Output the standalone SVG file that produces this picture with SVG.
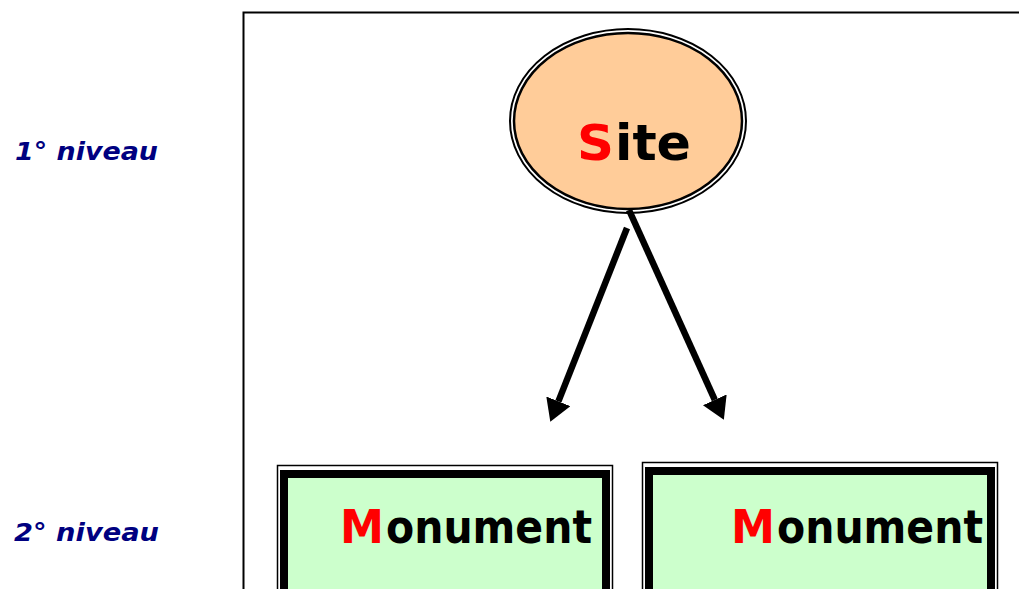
<svg xmlns="http://www.w3.org/2000/svg" width="1019" height="589" viewBox="0 0 1019 589">
<style>
.lvl{font-family:"Comic Sans MS","DejaVu Sans",sans-serif;font-weight:bold;font-style:italic;font-size:25px;fill:#000080}
.nt{font-family:"Comic Sans MS","DejaVu Sans",sans-serif;font-weight:bold;font-size:50px;fill:#000}
.mt{font-size:47px}
.red{fill:#FF0000}
.conn{stroke:#000;stroke-width:6.5;fill:none}
</style>
<defs>
<marker id="ah" markerUnits="userSpaceOnUse" markerWidth="26" markerHeight="28" refX="0" refY="13" orient="auto">
<path d="M0,0 L22,13 L0,26 z" fill="#000"/>
</marker>
</defs>
<rect width="1019" height="589" fill="#fff"/>
<path d="M243.5,589 V12.5 H1019" fill="none" stroke="#000" stroke-width="2"/>
<text class="lvl" x="15" y="160" textLength="143" lengthAdjust="spacingAndGlyphs">1° niveau</text>
<text class="lvl" x="14" y="541" textLength="145" lengthAdjust="spacingAndGlyphs">2° niveau</text>
<g id="site">
<ellipse cx="628" cy="121" rx="118" ry="92" fill="#fff" stroke="#000" stroke-width="2"/>
<ellipse cx="628" cy="121" rx="114" ry="88" fill="#FFCC99" stroke="#000" stroke-width="2.5"/>
<text class="nt red" x="577" y="160" textLength="37" lengthAdjust="spacingAndGlyphs">S</text>
<text class="nt" x="615" y="160" textLength="76" lengthAdjust="spacingAndGlyphs">ite</text>
</g>
<g id="monument1">
<rect x="277.5" y="465.5" width="335" height="200" fill="#fff" stroke="#000" stroke-width="1.5"/>
<rect x="284" y="474" width="322" height="200" fill="#CCFFCC" stroke="#000" stroke-width="8"/>
<text class="nt mt red" x="340" y="543" textLength="44" lengthAdjust="spacingAndGlyphs">M</text>
<text class="nt mt" x="386" y="543" textLength="206" lengthAdjust="spacingAndGlyphs">onument</text>
</g>
<g id="monument2">
<rect x="642.5" y="462.5" width="355" height="200" fill="#fff" stroke="#000" stroke-width="1.5"/>
<rect x="649" y="471" width="342" height="200" fill="#CCFFCC" stroke="#000" stroke-width="8"/>
<text class="nt mt red" x="731" y="543" textLength="44" lengthAdjust="spacingAndGlyphs">M</text>
<text class="nt mt" x="777" y="543" textLength="206" lengthAdjust="spacingAndGlyphs">onument</text>
</g>
<g id="connectors">
<line class="conn" x1="627" y1="228" x2="558.4" y2="401.4" marker-end="url(#ah)"/>
<line class="conn" x1="629" y1="210" x2="714.8" y2="399.8" marker-end="url(#ah)"/>
</g>
</svg>
